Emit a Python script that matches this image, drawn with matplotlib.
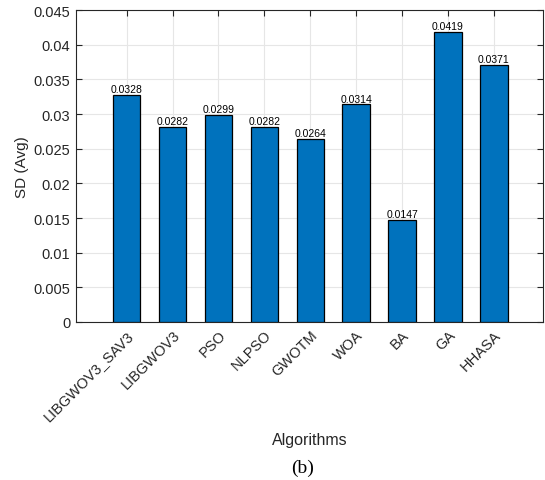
import matplotlib
matplotlib.use("Agg")
import matplotlib.pyplot as plt
import numpy as np

algorithms = ["LIBGWOV3_SAV3", "LIBGWOV3", "PSO", "NLPSO", "GWOTM",
              "WOA", "BA", "GA", "HHASA"]
sd_avg = [0.0328, 0.0282, 0.0299, 0.0282, 0.0264, 0.0314, 0.0147, 0.0419, 0.0371]
yticks = [0, 0.005, 0.01, 0.015, 0.02, 0.025, 0.03, 0.035, 0.04, 0.045]
ytick_labels = ["0", "0.005", "0.01", "0.015", "0.02", "0.025", "0.03", "0.035", "0.04", "0.045"]

plt.rcParams["font.family"] = ["Liberation Sans", "DejaVu Sans"]

fig = plt.figure(figsize=(5.45, 4.81), dpi=100)
ax = fig.add_axes([0.139, 0.3285, 0.8573, 0.6485])

x = np.arange(1, len(algorithms) + 1)
ax.bar(x, sd_avg, width=0.6, color="#0072BD", edgecolor="black", linewidth=0.9, zorder=3)

# value labels above each bar
for xi, v in zip(x, sd_avg):
    ax.text(xi, v + 0.0001, f"{v:.4f}", ha="center", va="bottom", fontsize=7.5, zorder=4)

ax.set_xlim(-0.11, 10.07)
ax.set_ylim(0, 0.045)
ax.set_yticks(yticks)
ax.set_yticklabels(ytick_labels, fontsize=10.5, color="#262626")
ax.set_xticks(x)
ax.set_xticklabels(algorithms, rotation=45, ha="right", rotation_mode="anchor",
                   fontsize=10.5, color="#262626")

ax.grid(True, color="#e6e6e6", linewidth=0.8, zorder=0)
ax.set_axisbelow(True)
ax.tick_params(direction="in", top=True, right=True, length=4, width=0.8,
               color="#262626", pad=4)
for s in ax.spines.values():
    s.set_color("#262626")
    s.set_linewidth(0.8)

ax.set_ylabel("SD (Avg)", fontsize=11, color="#262626", labelpad=3)
fig.text(0.568, 1 - 440 / 481, "Algorithms", ha="center", va="center",
         fontsize=11.5, color="#262626")
fig.text(0.556, 1 - 468 / 481, "(b)", ha="center", va="center",
         fontsize=14, family=["Liberation Serif", "DejaVu Serif"])

fig.savefig("out.png", dpi=100)
